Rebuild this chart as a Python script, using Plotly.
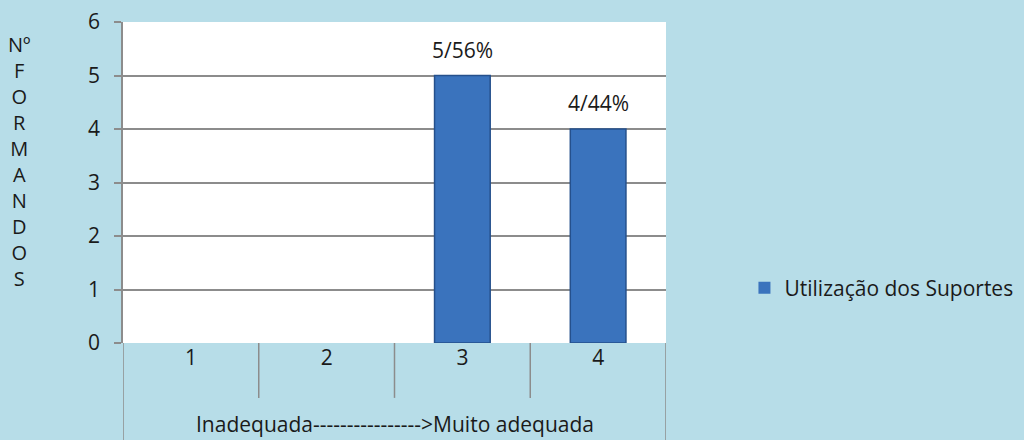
import plotly.graph_objects as go

categories = ["1", "2", "3", "4"]
values = [0, 0, 5, 4]
labels = ["", "", "5/56%", "4/44%"]
series_name = "Utilização dos Suportes"
y_title_letters = ["Nº", "F", "O", "R", "M", "A", "N", "D", "O", "S"]
x_title = "Inadequada---------------->Muito adequada"

BG = "#b7dde8"
GRID = "#8c8c8c"
FONT = "Open Sans"
TXT = "#1a1a1a"

fig = go.Figure()
fig.add_trace(go.Bar(
    x=categories, y=values,
    marker=dict(color="#3a73bd",
                line=dict(color="#25508c", width=[0 if v == 0 else 1.5 for v in values])),
    width=0.41, name=series_name, showlegend=True,
))

# value labels above bars (x given as category index)
for i, (v, t) in enumerate(zip(values, labels)):
    if t:
        fig.add_annotation(x=i, y=v, text=t, showarrow=False, yanchor="bottom",
                           yshift=10, font=dict(size=21, color=TXT, family=FONT))

# category divider lines
n = len(categories)
for i in range(n + 1):
    xv = i - 0.5
    y0 = -0.302 if i in (0, n) else -0.171
    fig.add_shape(type="line", xref="x", yref="paper", x0=xv, x1=xv, y0=0, y1=y0,
                  line=dict(color=GRID, width=1.5))

fig.add_annotation(
    xref="paper", yref="paper", x=-0.19, y=0.565, xanchor="center", yanchor="middle",
    text="<br>".join(y_title_letters), showarrow=False,
    font=dict(size=20, color=TXT, family=FONT), align="center",
)

fig.add_annotation(
    xref="paper", yref="paper", x=0.5, y=-0.252, xanchor="center", yanchor="middle",
    text=x_title, showarrow=False, font=dict(size=21, color=TXT, family=FONT),
)

fig.update_layout(
    width=1024, height=440,
    paper_bgcolor=BG, plot_bgcolor="white",
    margin=dict(l=123, r=358, t=22, b=97, autoexpand=False),
    font=dict(family=FONT, size=21, color=TXT),
    legend=dict(xref="container", yref="container", x=0.727, y=0.345,
                xanchor="left", yanchor="middle", itemwidth=30,
                font=dict(size=21, family=FONT, color=TXT), bgcolor="rgba(0,0,0,0)"),
    xaxis=dict(type="category", range=[-0.5, 3.5], showgrid=False, zeroline=False,
               showline=False, ticks="", tickfont=dict(size=21), ticklabelstandoff=0),
    yaxis=dict(range=[0, 6], dtick=1, showgrid=True, gridcolor=GRID, gridwidth=1.5,
               zeroline=False, showline=True, linecolor=GRID, linewidth=1.5,
               ticks="outside", ticklen=7, tickcolor=GRID, tickwidth=1.5,
               tickfont=dict(size=21), ticklabelstandoff=10),
)

fig.write_html("out.html")
